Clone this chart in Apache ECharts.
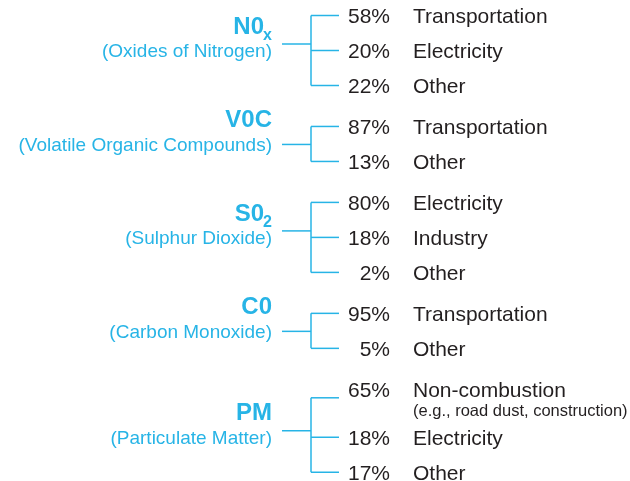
<!DOCTYPE html>
<html>
<head>
<meta charset="utf-8">
<script src="https://cdn.jsdelivr.net/npm/echarts@6/dist/echarts.min.js"></script>
<style>
  html, body { margin: 0; padding: 0; background: #fff; }
  #chart { width: 630px; height: 481px; }
</style>
</head>
<body>
<div id="chart"></div>
<script>
// pollutants and where their emissions come from
const pollutants = ['N0', 'V0C', 'S0', 'C0', 'PM'];
const subscripts = ['x', '', '2', '', ''];
const fullNames = [
  '(Oxides of Nitrogen)',
  '(Volatile Organic Compounds)',
  '(Sulphur Dioxide)',
  '(Carbon Monoxide)',
  '(Particulate Matter)'
];
const shares = [[58, 20, 22], [87, 13], [80, 18, 2], [95, 5], [65, 18, 17]];
const sources = [
  ['Transportation', 'Electricity', 'Other'],
  ['Transportation', 'Other'],
  ['Electricity', 'Industry', 'Other'],
  ['Transportation', 'Other'],
  ['Non-combustion', 'Electricity', 'Other']
];
const sourceNotes = [[], [], [], [], ['(e.g., road dust, construction)']];

const BLUE = '#27b4e6';
const DARK = '#231f20';
const FONT = '"Liberation Sans", Arial, Helvetica, sans-serif';

// row index of every source line (gap between groups, extra room for notes)
const GROUP_GAP = 0.17;
const NOTE_GAP = 0.37;
let cursor = 0;
const rows = shares.map((list, g) => {
  const r = list.map((v, i) => {
    const here = cursor;
    cursor += 1 + (sourceNotes[g][i] ? NOTE_GAP : 0);
    return here;
  });
  cursor += GROUP_GAP;
  return r;
});

const chart = echarts.init(document.getElementById('chart'));

function renderGroup(params, api) {
  const g = params.dataIndex;
  const rs = rows[g];
  const n = rs.length;
  const ty = rs.map(r => api.coord([0, r])[1]);
  const ly = ty.map((y, i) => sourceNotes[g][i] ? y + 7 : y - 1.5);
  const subRow = n % 2 ? rs[(n - 1) / 2] : (rs[n / 2 - 1] + rs[n / 2]) / 2;
  const subY = api.coord([0, subRow])[1];
  const stubY = n > 2 ? subY - 8 : subY - 1;
  const titleY = subY - 25;
  const lineStyle = { stroke: BLUE, lineWidth: 1.5, fill: null };
  const children = [];

  children.push({ type: 'polyline', shape: { points: [[282, stubY], [311, stubY]] }, style: lineStyle });
  children.push({ type: 'polyline', shape: { points: [[311, ly[0]], [311, ly[n - 1]]] }, style: lineStyle });

  rs.forEach((r, i) => {
    children.push({ type: 'polyline', shape: { points: [[311, ly[i]], [339, ly[i]]] }, style: lineStyle });
    children.push({
      type: 'text', x: 390, y: ty[i],
      style: { text: shares[g][i] + '%', font: '21px ' + FONT, fill: DARK, align: 'right', verticalAlign: 'middle' }
    });
    children.push({
      type: 'text', x: 413, y: ty[i],
      style: { text: sources[g][i], font: '21px ' + FONT, fill: DARK, align: 'left', verticalAlign: 'middle' }
    });
    if (sourceNotes[g][i]) {
      children.push({
        type: 'text', x: 413, y: ty[i] + 21,
        style: { text: sourceNotes[g][i], font: '16.5px ' + FONT, fill: DARK, align: 'left', verticalAlign: 'middle' }
      });
    }
  });

  const subW = subscripts[g] ? 8 : 0;
  children.push({
    type: 'text', x: 272 - subW, y: titleY,
    style: { text: pollutants[g], font: 'bold 24px ' + FONT, fill: BLUE, align: 'right', verticalAlign: 'middle' }
  });
  if (subscripts[g]) {
    children.push({
      type: 'text', x: 272, y: titleY + 9,
      style: { text: subscripts[g], font: 'bold 16px ' + FONT, fill: BLUE, align: 'right', verticalAlign: 'middle' }
    });
  }
  children.push({
    type: 'text', x: 272, y: subY,
    style: { text: fullNames[g], font: '19px ' + FONT, fill: BLUE, align: 'right', verticalAlign: 'middle' }
  });

  return { type: 'group', children: children };
}

chart.setOption({
  animation: false,
  grid: { left: 0, right: 0, top: 0, bottom: 0 },
  xAxis: { type: 'value', min: 0, max: 630, show: false },
  yAxis: { type: 'value', inverse: true, min: -17 / 35, max: (481 - 17) / 35, show: false },
  series: [{
    type: 'custom',
    clip: false,
    renderItem: renderGroup,
    data: pollutants.map((p, g) => [0, rows[g][0]])
  }]
});
</script>
</body>
</html>
